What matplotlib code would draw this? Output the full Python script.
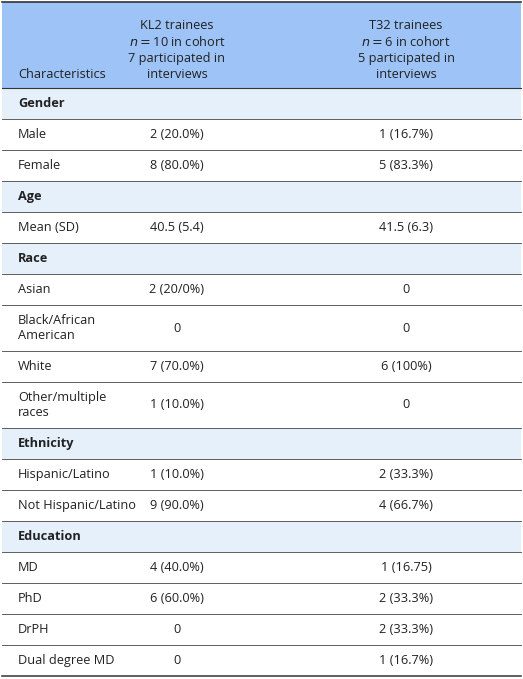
import matplotlib.pyplot as plt
from matplotlib.patches import Rectangle

plt.rcParams['font.family'] = ['Open Sans', 'DejaVu Sans']

header = ['Characteristics',
          'KL2 trainees\n$n=$10 in cohort\n7 participated in\ninterviews',
          'T32 trainees\n$n=$6 in cohort\n5 participated in\ninterviews']
# (label, kl2, t32, is_section)
rows = [
    ('Gender', '', '', True),
    ('Male', '2 (20.0%)', '1 (16.7%)', False),
    ('Female', '8 (80.0%)', '5 (83.3%)', False),
    ('Age', '', '', True),
    ('Mean (SD)', '40.5 (5.4)', '41.5 (6.3)', False),
    ('Race', '', '', True),
    ('Asian', '2 (20/0%)', '0', False),
    ('Black/African\nAmerican', '0', '0', False),
    ('White', '7 (70.0%)', '6 (100%)', False),
    ('Other/multiple\nraces', '1 (10.0%)', '0', False),
    ('Ethnicity', '', '', True),
    ('Hispanic/Latino', '1 (10.0%)', '2 (33.3%)', False),
    ('Not Hispanic/Latino', '9 (90.0%)', '4 (66.7%)', False),
    ('Education', '', '', True),
    ('MD', '4 (40.0%)', '1 (16.75)', False),
    ('PhD', '6 (60.0%)', '2 (33.3%)', False),
    ('DrPH', '0', '2 (33.3%)', False),
    ('Dual degree MD', '0', '1 (16.7%)', False),
]

W, H = 523, 679
fig = plt.figure(figsize=(W / 100, H / 100), dpi=100)
ax = fig.add_axes([0, 0, 1, 1])
ax.set_xlim(0, W)
ax.set_ylim(H, 0)
ax.axis('off')

left, right = 2, 521
c2, c3 = 177, 406
fs = 9.2

top, hb = 2, 88
ax.add_patch(Rectangle((left, top), right - left, hb - top, color='#9dc3f7', lw=0))
ax.text(18, hb - 7, header[0], fontsize=fs, va='bottom', ha='left', color='#222222')
ax.text(c2, hb - 7, header[1], fontsize=fs, va='bottom', ha='center', color='#222222', linespacing=1.3)
ax.text(c3, hb - 7, header[2], fontsize=fs, va='bottom', ha='center', color='#222222', linespacing=1.3)
ax.plot([left, right], [top, top], color='#333333', lw=1.2)
ax.plot([left, right], [hb, hb], color='#333333', lw=0.8)

y = hb
for label, a, b, sec in rows:
    h = 46 if '\n' in label else 31
    if sec:
        ax.add_patch(Rectangle((left, y), right - left, h, color='#e6f0fb', lw=0))
    ax.text(18, y + h / 2, label, fontsize=fs, va='center', ha='left',
            fontweight='bold' if sec else 'normal', color='#222222', linespacing=1.25)
    ax.text(c2, y + h / 2, a, fontsize=fs, va='center', ha='center', color='#222222')
    ax.text(c3, y + h / 2, b, fontsize=fs, va='center', ha='center', color='#222222')
    y += h
    ax.plot([left, right], [y, y], color='#444444', lw=0.6 if y < 670 else 1.2)

fig.savefig('out.png', dpi=100)
